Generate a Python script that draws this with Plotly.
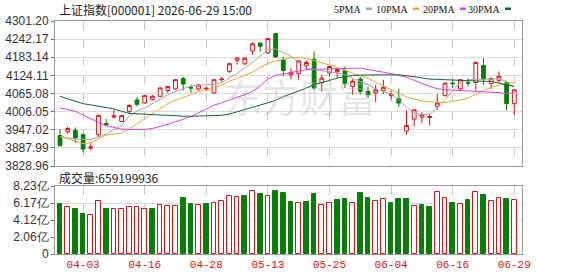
import plotly.graph_objects as go

# ---------------- data ----------------
dates = ["03-31","04-01","04-02","04-03","04-07","04-08","04-09","04-10","04-13","04-14",
         "04-15","04-16","04-17","04-20","04-21","04-22","04-23","04-24","04-27","04-28",
         "04-29","04-30","05-06","05-07","05-08","05-11","05-12","05-13","05-14","05-15",
         "05-18","05-19","05-20","05-21","05-22","05-25","05-26","05-27","05-28","05-29",
         "06-01","06-02","06-03","06-04","06-05","06-08","06-09","06-10","06-11","06-12",
         "06-15","06-16","06-17","06-18","06-22","06-23","06-24","06-25","06-26","06-29"]

open_ = [3928,3940,3945,3931,3887,3931,3967,3988,3974,4007,
         4044,4034,4045,4056,4075,4080,4114,4085,4080,4080,
         4067,4110,4137,4173,4162,4204,4229,4197,4260,4175,
         4126,4130,4157,4177,4101,4132,4136,4140,4088,4112,
         4072,4067,4074,4058,4048,3943,3982,3988,3987,4023,
         4058,4099,4080,4101,4101,4156,4097,4108,4101,4032]
high = [3949,3958,3955,3934,3904,3995,3982,4012,3994,4030,
        4054,4060,4060,4086,4090,4112,4119,4094,4096,4088,
        4112,4119,4166,4181,4184,4232,4232,4246,4262,4184,
        4148,4175,4173,4202,4126,4156,4148,4153,4112,4119,
        4088,4094,4110,4075,4080,4010,4014,4004,3998,4064,
        4101,4110,4112,4115,4169,4180,4119,4137,4105,4080]
low = [3893,3934,3904,3873,3880,3923,3960,3984,3972,4000,
       4023,4032,4043,4054,4067,4078,4075,4067,4074,4073,
       4064,4104,4132,4159,4157,4191,4202,4195,4181,4121,
       4112,4110,4143,4077,4072,4121,4115,4083,4061,4061,
       4050,4036,4064,4045,4021,3931,3958,3969,3962,4012,
       4056,4083,4077,4088,4075,4094,4080,4097,4010,3996]
close = [3895,3951,3921,3884,3891,3994,3963,3992,3993,4026,
         4030,4058,4056,4083,4088,4110,4096,4083,4093,4082,
         4110,4112,4162,4181,4180,4227,4219,4244,4184,4140,
         4134,4171,4166,4083,4115,4153,4143,4097,4105,4072,
         4061,4077,4085,4062,4034,3961,4012,3996,3990,4034,
         4099,4097,4110,4099,4166,4112,4113,4121,4032,4077]

ma5 = [3925,3920,3917,3916,3915,3924,3933,3948,3960,3993,
       4008,4018,4033,4048,4061,4072,4080,4089,4092,4094,
       4095,4100,4115,4131,4148,4166,4188,4208,4210,4198,
       4186,4168,4150,4143,4140,4137,4132,4126,4115,4104,
       4094,4080,4072,4063,4045,4021,4001,3997,3996,4018,
       4045,4075,4102,4110,4112,4112,4112,4112,4105,4085]
ma10 = [3925,3917,3909,3902,3905,3918,3930,3933,3936,3950,
        3966,3982,3999,4015,4032,4043,4053,4062,4071,4077,
        4083,4093,4105,4114,4125,4135,4150,4163,4171,4177,
        4181,4183,4179,4172,4166,4158,4150,4140,4131,4123,
        4115,4101,4090,4079,4066,4054,4046,4040,4038,4037,
        4036,4040,4043,4050,4063,4075,4085,4093,4099,4101]
ma20 = [4018,4013,4007,3995,3982,3971,3960,3954,3949,3948,
        3947,3948,3951,3957,3965,3973,3981,3990,4002,4014,
        4027,4035,4045,4053,4061,4072,4090,4112,4124,4128,
        4132,4138,4143,4144,4145,4146,4147,4147,4148,4148,
        4143,4139,4135,4130,4124,4118,4108,4098,4088,4081,
        4077,4076,4075,4074,4073,4072,4070,4068,4065,4067]
ma30 = [4056,4048,4040,4032,4028,4024,4019,4015,4007,4000,
        3999,3997,3996,3995,3994,3992,3991,3991,3992,3993,
        3992,3994,3998,4005,4012,4020,4027,4035,4043,4055,
        4064,4073,4083,4094,4102,4108,4115,4119,4124,4125,
        4126,4126,4126,4126,4126,4123,4119,4116,4112,4111,
        4110,4110,4109,4109,4108,4106,4104,4099,4093,4088]

# volume in 亿 (1e8 shares)
volume = [6.05,5.65,5.44,4.84,4.72,6.37,5.44,5.44,5.44,5.65,
          5.65,5.44,5.44,5.93,5.81,5.81,6.74,6.05,5.93,6.05,
          6.13,6.45,7.02,6.86,7.02,7.58,7.26,7.02,7.58,7.34,
          6.29,6.13,6.29,7.26,5.93,6.13,6.53,6.65,6.13,7.34,
          6.78,6.37,6.61,6.13,6.61,6.61,5.81,5.93,5.69,7.46,
          6.74,6.13,6.01,6.49,7.46,7.14,6.37,6.74,6.61,6.59]

x_tick_labels = ["04-03","04-16","04-28","05-13","05-25","06-04","06-16","06-29"]
price_ticks = [3828.96,3887.99,3947.02,4006.05,4065.08,4124.11,4183.14,4242.17,4301.20]
vol_ticks = [0, 2.0575, 4.115, 6.1725, 8.23]
vol_tick_text = ["0", "2.06亿", "4.12亿", "6.17亿", "8.23亿"]
ma_names = ["5PMA", "10PMA", "20PMA", "30PMA"]
title_text = "上证指数[000001] 2026-06-29 15:00"
vol_title = "成交量:659199936"

# ---------------- styling ----------------
W, H = 578, 276
RED = "#dd1111"
GREEN = "#0a7d0a"
ma_colors = ["#a6a6a6", "#eba732", "#e040e0", "#116633"]

def px(x):
    return x / W

def py(y):
    return 1 - y / H

fig = go.Figure()

fig.add_trace(go.Candlestick(
    x=dates, open=open_, high=high, low=low, close=close,
    increasing=dict(line=dict(color=RED, width=1), fillcolor="white"),
    decreasing=dict(line=dict(color=GREEN, width=1), fillcolor=GREEN),
    whiskerwidth=0, xaxis="x", yaxis="y", hoverinfo="skip", showlegend=False,
))

for name, vals, col in zip(ma_names, [ma5, ma10, ma20, ma30], ma_colors):
    fig.add_trace(go.Scatter(x=dates, y=vals, mode="lines", name=name,
                             line=dict(color=col, width=1),
                             xaxis="x", yaxis="y", hoverinfo="skip", showlegend=False))

# volume color by close vs previous close
vol_fill, vol_line = [], []
for i in range(len(volume)):
    up = close[i] >= (close[i - 1] if i > 0 else open_[i])
    vol_fill.append("white" if up else GREEN)
    vol_line.append(RED if up else GREEN)

fig.add_trace(go.Bar(x=dates, y=volume, width=0.62,
                     marker=dict(color=vol_fill, line=dict(color=vol_line, width=1)),
                     xaxis="x2", yaxis="y2", hoverinfo="skip", showlegend=False))

xr = [-0.65, 60.0]
axis_common = dict(showline=True, mirror=True, linecolor="#9a9a9a", linewidth=1,
                   automargin=False, zeroline=False)

fig.update_layout(
    width=W, height=H, margin=dict(l=0, r=0, t=0, b=0),
    paper_bgcolor="white", plot_bgcolor="white", template="none",
    showlegend=False, bargap=0, boxgap=0.3,
    xaxis=dict(domain=[px(55), px(522)], type="category", range=xr,
               categoryorder="array", categoryarray=dates,
               tickvals=x_tick_labels, showticklabels=False, ticks="",
               showgrid=True, gridcolor="#c8c8c8", griddash="dash", gridwidth=1,
               rangeslider=dict(visible=False), anchor="y", **axis_common),
    yaxis=dict(domain=[py(166), py(21)], range=[price_ticks[0], price_ticks[-1]],
               tickvals=price_ticks, ticktext=[f"{v:.2f}" for v in price_ticks],
               ticks="outside", ticklen=3, tickcolor="#666",
               tickfont=dict(family="Liberation Sans, Arial", size=12, color="#333"),
               showgrid=True, gridcolor="#dcdcdc", gridwidth=1, anchor="x", **axis_common),
    xaxis2=dict(domain=[px(55), px(522)], type="category", range=xr,
                categoryorder="array", categoryarray=dates,
                tickvals=x_tick_labels, ticktext=x_tick_labels, ticks="",
                tickfont=dict(family="Liberation Mono, monospace", size=11, color=RED),
                showgrid=True, gridcolor="#c8c8c8", griddash="dash", gridwidth=1,
                anchor="y2", **axis_common),
    yaxis2=dict(domain=[py(254), py(186)], range=[0, vol_ticks[-1]],
                tickvals=vol_ticks, ticktext=vol_tick_text,
                ticks="outside", ticklen=3, tickcolor="#666",
                tickfont=dict(family="Liberation Sans, Arial", size=12, color="#333"),
                showgrid=True, gridcolor="#dcdcdc", gridwidth=1, anchor="x2", **axis_common),
)

annotations = [
    dict(text=title_text, x=px(57), y=py(9), xref="paper", yref="paper",
         xanchor="left", yanchor="middle", showarrow=False,
         font=dict(family="Noto Sans CJK SC", size=12, color="#222")),
    dict(text=vol_title, x=px(57), y=py(177), xref="paper", yref="paper",
         xanchor="left", yanchor="middle", showarrow=False,
         font=dict(family="Noto Sans CJK SC", size=12, color="#222")),
    dict(text="东方财富", x=px(300), y=py(95), xref="paper", yref="paper",
         xanchor="center", yanchor="middle", showarrow=False,
         font=dict(family="Noto Sans CJK SC", size=38, color="rgba(180,180,180,0.35)")),
]
shapes = []
legend_marker_x = [366, 413, 460, 505]
for name, col, mx in zip(ma_names, ma_colors, legend_marker_x):
    annotations.append(dict(text=name, x=px(mx - 3), y=py(9), xref="paper", yref="paper",
                            xanchor="right", yanchor="middle", showarrow=False,
                            font=dict(family="Liberation Serif, serif", size=10, color="#111")))
    shapes.append(dict(type="rect", xref="paper", yref="paper",
                       x0=px(mx), x1=px(mx + 6), y0=py(10), y1=py(7.5),
                       fillcolor=col, line=dict(width=0)))

fig.update_layout(annotations=annotations, shapes=shapes)
fig.write_html("out.html")
